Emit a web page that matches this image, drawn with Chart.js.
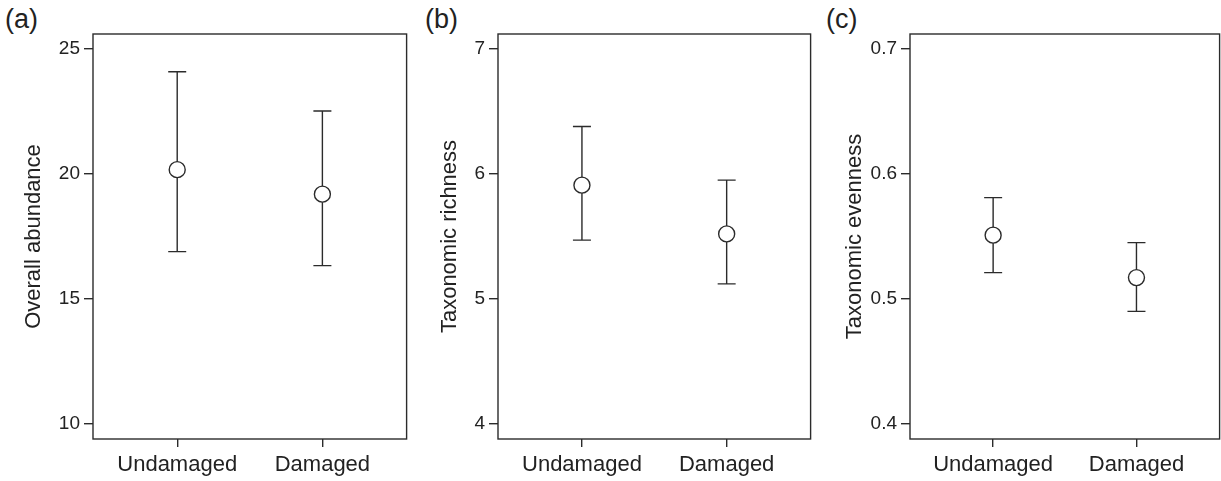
<!DOCTYPE html>
<html>
<head>
<meta charset="utf-8">
<script src="https://cdn.jsdelivr.net/npm/chart.js@4"></script>
<style>
  html, body { margin: 0; padding: 0; background: #fff; }
  body { width: 1221px; height: 481px; position: relative; overflow: hidden; font-family: 'Liberation Sans', Arial, sans-serif; }
  .panel { position: absolute; top: 0; height: 481px; }
  .tag { position: absolute; top: 4px; font-size: 27px; color: #222; }
</style>
</head>
<body>
<div class="tag" style="left:5px">(a)</div>
<div class="tag" style="left:425px">(b)</div>
<div class="tag" style="left:826px">(c)</div>
<div class="panel" style="left:0;width:416px"><canvas id="chartA"></canvas></div>
<div class="panel" style="left:410px;width:410px"><canvas id="chartB"></canvas></div>
<div class="panel" style="left:815px;width:414px"><canvas id="chartC"></canvas></div>
<script>
const categories = ['Undamaged', 'Damaged'];

const abundanceMean = [20.17, 19.19];
const abundanceLower = [16.89, 16.33];
const abundanceUpper = [24.09, 22.52];
const abundanceTicks = [10, 15, 20, 25];

const richnessMean = [5.91, 5.52];
const richnessLower = [5.47, 5.12];
const richnessUpper = [6.38, 5.95];
const richnessTicks = [4, 5, 6, 7];

const evennessMean = [0.551, 0.517];
const evennessLower = [0.521, 0.490];
const evennessUpper = [0.581, 0.545];
const evennessTicks = [0.4, 0.5, 0.6, 0.7];

const ink = '#2b2b2b';
const fontFamily = "'Liberation Sans', Arial, sans-serif";

// whiskers drawn under the mean markers, plus a frame round the plot area
const errorBars = {
    id: 'errorBars',
    beforeDatasetsDraw(chart, args, opts) {
        const { ctx, scales: { x, y } } = chart;
        ctx.save();
        ctx.strokeStyle = ink;
        ctx.lineWidth = 1.4;
        opts.lower.forEach((lo, i) => {
            const px = x.getPixelForValue(i);
            const yLo = y.getPixelForValue(lo);
            const yHi = y.getPixelForValue(opts.upper[i]);
            ctx.beginPath();
            ctx.moveTo(px, yLo); ctx.lineTo(px, yHi);
            ctx.moveTo(px - 9, yLo); ctx.lineTo(px + 9, yLo);
            ctx.moveTo(px - 9, yHi); ctx.lineTo(px + 9, yHi);
            ctx.stroke();
        });
        ctx.restore();
    },
    afterDraw(chart) {
        const { ctx, chartArea: a } = chart;
        ctx.save();
        ctx.strokeStyle = ink;
        ctx.lineWidth = 1.4;
        ctx.strokeRect(a.left, a.top, a.right - a.left, a.bottom - a.top);
        ctx.restore();
    }
};

function makePanel(canvasId, title, mean, lower, upper, ticks, yMin, yMax, yWidth, titlePad, padRight) {
    return new Chart(document.getElementById(canvasId), {
        type: 'scatter',
        data: {
            datasets: [{
                data: mean.map((v, i) => ({ x: i, y: v })),
                pointRadius: 8,
                pointBackgroundColor: '#fff',
                pointBorderColor: ink,
                pointBorderWidth: 1.4,
            }]
        },
        options: {
            responsive: true,
            maintainAspectRatio: false,
            animation: false,
            layout: { padding: { top: 34, right: padRight, left: 0, bottom: 0 } },
            plugins: {
                legend: { display: false },
                tooltip: { enabled: false },
                errorBars: { lower: lower, upper: upper },
            },
            scales: {
                x: {
                    type: 'linear',
                    min: -0.58,
                    max: 1.58,
                    afterBuildTicks: (axis) => { axis.ticks = categories.map((c, i) => ({ value: i })); },
                    afterFit: (axis) => { axis.height = 42; },
                    grid: { drawOnChartArea: false, drawTicks: true, tickLength: 8, color: ink, lineWidth: 1.4 },
                    border: { display: false },
                    ticks: {
                        autoSkip: false,
                        maxRotation: 0,
                        padding: 5,
                        color: '#222',
                        font: { family: fontFamily, size: 22 },
                        callback: (v) => categories[v],
                    }
                },
                y: {
                    min: yMin,
                    max: yMax,
                    afterBuildTicks: (axis) => { axis.ticks = ticks.map(v => ({ value: v })); },
                    afterFit: (axis) => { axis.width = yWidth; },
                    grid: { drawOnChartArea: false, drawTicks: true, tickLength: 9, color: ink, lineWidth: 1.4 },
                    border: { display: false },
                    ticks: {
                        padding: 4,
                        color: '#222',
                        font: { family: fontFamily, size: 19 },
                        callback: (v) => String(v),
                    },
                    title: {
                        display: true,
                        text: title,
                        color: '#222',
                        font: { family: fontFamily, size: 22 },
                        padding: { top: titlePad, bottom: 0 },
                    }
                }
            }
        },
        plugins: [errorBars]
    });
}

makePanel('chartA', 'Overall abundance', abundanceMean, abundanceLower, abundanceUpper, abundanceTicks, 9.39, 25.6, 93, 21, 4);
makePanel('chartB', 'Taxonomic richness', richnessMean, richnessLower, richnessUpper, richnessTicks, 3.878, 7.12, 88, 26.5, 5);
makePanel('chartC', 'Taxonomic evenness', evennessMean, evennessLower, evennessUpper, evennessTicks, 0.3878, 0.712, 95, 26.5, 1);
</script>
</body>
</html>
